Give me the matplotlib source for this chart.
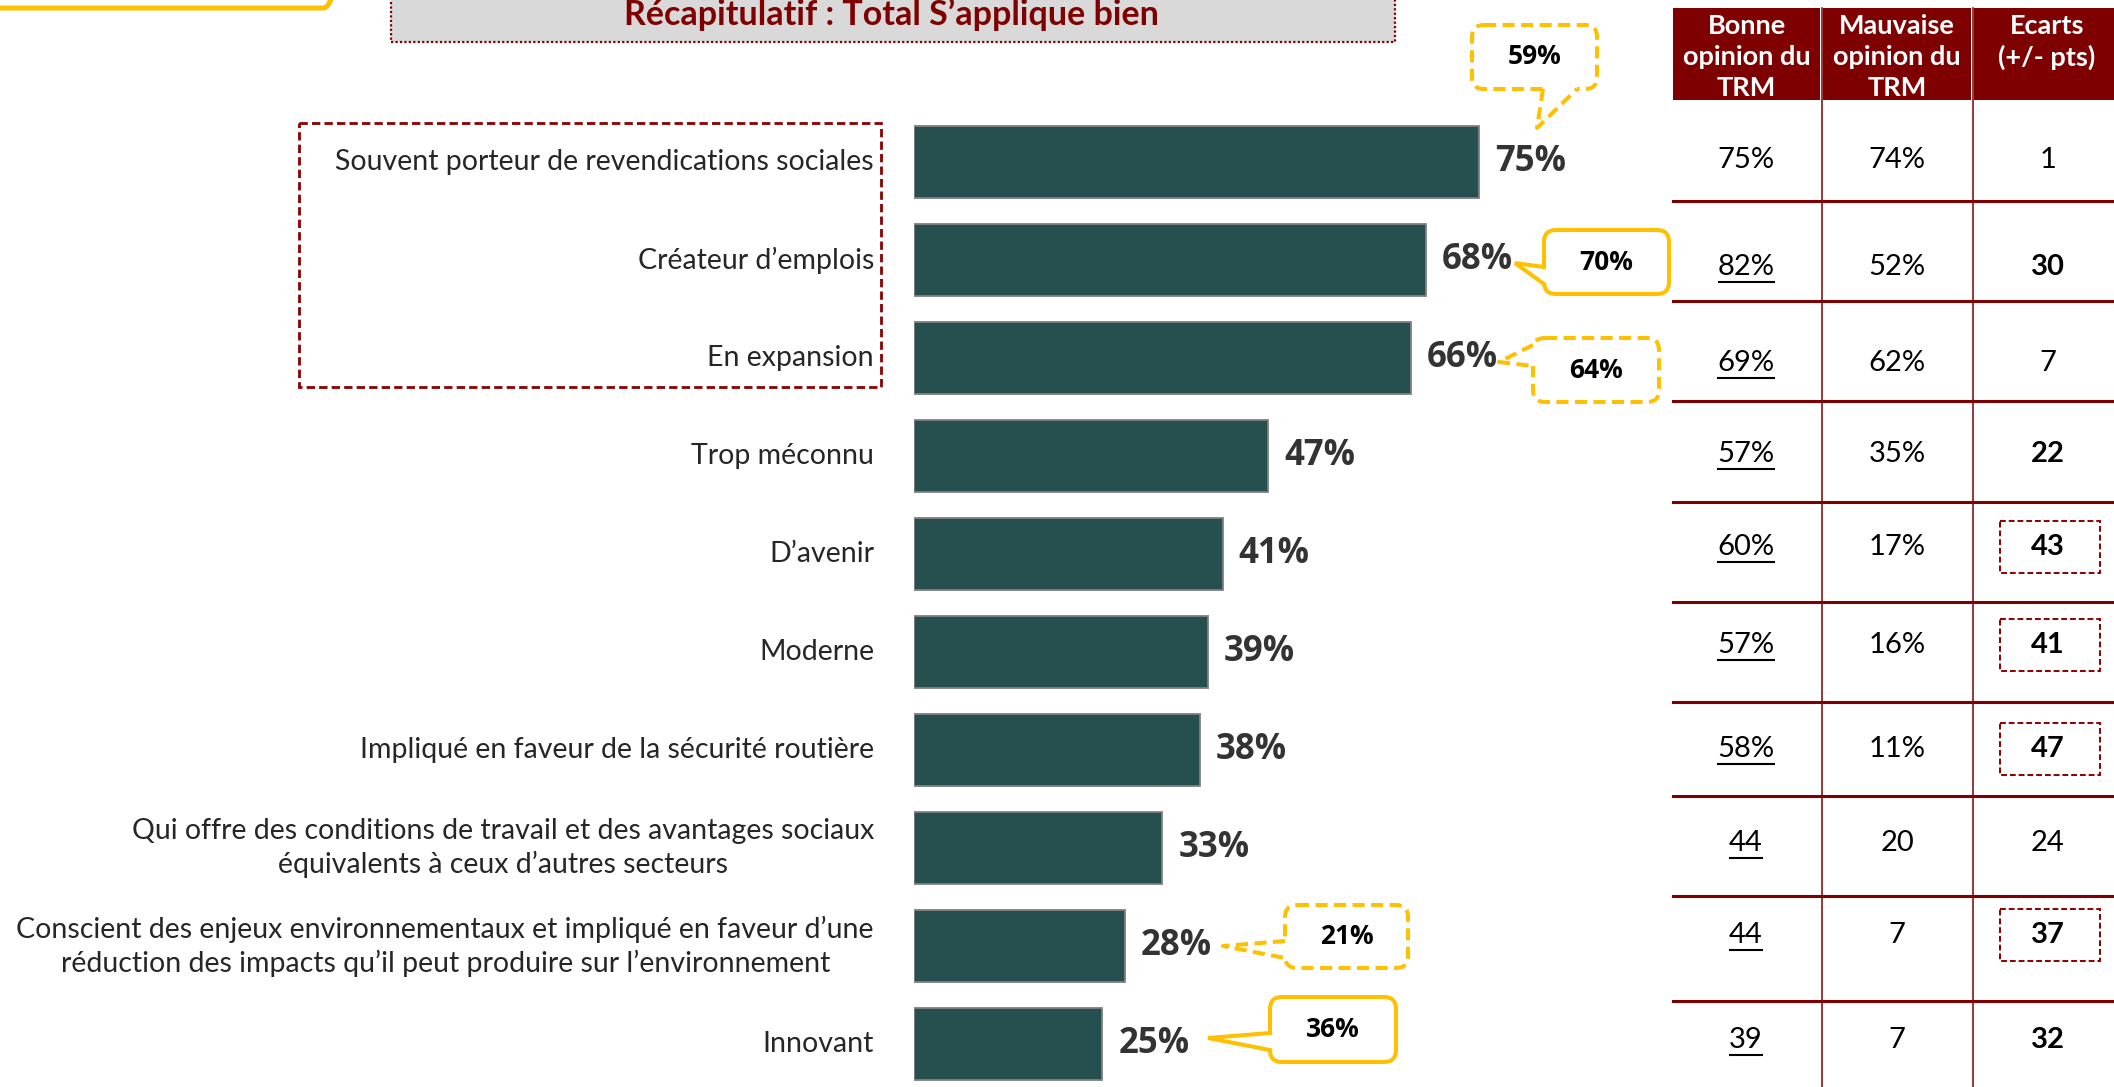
import matplotlib
matplotlib.use("Agg")
import matplotlib.pyplot as plt
from matplotlib.patches import FancyBboxPatch, Rectangle

W, H = 2114, 1087

categories = [
    "Souvent porteur de revendications sociales",
    "Créateur d’emplois",
    "En expansion",
    "Trop méconnu",
    "D’avenir",
    "Moderne",
    "Impliqué en faveur de la sécurité routière",
    "Qui offre des conditions de travail et des avantages sociaux\néquivalents à ceux d’autres secteurs",
    "Conscient des enjeux environnementaux et impliqué en faveur d’une\nréduction des impacts qu’il peut produire sur l’environnement",
    "Innovant",
]
scores = [75, 68, 66, 47, 41, 39, 38, 33, 28, 25]

headers = [["Bonne", "opinion du", "TRM"], ["Mauvaise", "opinion du", "TRM"], ["Ecarts", "(+/- pts)"]]
bonne = ["75%", "82%", "69%", "57%", "60%", "57%", "58%", "44", "44", "39"]
mauvaise = ["74%", "52%", "62%", "35%", "17%", "16%", "11%", "20", "7", "7"]
ecarts = ["1", "30", "7", "22", "43", "41", "47", "24", "37", "32"]
ecarts_bold = [False, True, False, True, True, True, True, False, True, True]
ecarts_boxed = [False, False, False, False, True, True, True, False, True, False]
bonne_underline = [False, True, True, True, True, True, True, True, True, True]

# previous wave values shown in yellow bubbles
prev_rows = [0, 1, 2, 8, 9]
prev_vals = ["59%", "70%", "64%", "21%", "36%"]
prev_dashed = [True, False, True, True, False]

# layout (pixels)
bubble_box = {0: (1472, 25, 1597, 89), 1: (1544, 230, 1669, 294), 2: (1533, 338, 1659, 402),
              8: (1285, 905, 1408, 968), 9: (1270, 997, 1396, 1062)}
bubble_tip = {0: (1537, 128), 1: (1515, 263), 2: (1499, 362), 8: (1223, 946), 9: (1208, 1038)}
bubble_base = {0: ((1543, 89), (1577, 89)), 1: ((1544, 267), (1544, 284)), 2: ((1533, 345), (1533, 366)),
               8: ((1285, 941), (1285, 958)), 9: ((1270, 1033), (1270, 1050))}
row_y = [160, 267, 363, 454, 547, 645, 749, 843, 935, 1040]
sep_y = [201, 301, 401, 502, 602, 702, 796, 896, 1001]
col_x = [1746, 1897, 2048]

BAR = "#25504F"
RED = "#7F0000"
YEL = "#FFC000"
TXT = "#333333"
FONT = "Lato"

fig = plt.figure(figsize=(W / 100, H / 100), dpi=100)

# bar chart: 0% at x=914px, 7.53 px per point, rows 98 px apart starting at 162px
px_per = 7.53
ax = fig.add_axes([914 / W, 0, 100 * px_per / W, (H - 113) / H])
ax.set_xlim(0, 100)
ax.set_ylim(-0.5 + (H - 113) / 98, -0.5)
ax.axis("off")
ax.barh(range(len(scores)), scores, height=72 / 98, color=BAR, edgecolor="#808080", linewidth=1.3)
for i, s in enumerate(scores):
    ax.text(s + 16 / px_per, i, f"{s}%", va="center", ha="left", fontsize=25,
            fontweight="bold", color=TXT, family="Open Sans")
    ax.text(-40 / px_per, i, categories[i], va="center", ha="right", multialignment="center",
            fontsize=20.5, color="#262626", family=FONT, linespacing=1.3, clip_on=False)

# overlay in pixel coordinates
ov = fig.add_axes([0, 0, 1, 1])
ov.set_xlim(0, W)
ov.set_ylim(H, 0)
ov.axis("off")
ov.patch.set_visible(False)

# top-left yellow frame fragment
ov.add_patch(FancyBboxPatch((-40, -80), 377, 88, boxstyle="round,pad=0,rounding_size=14",
                            fc="none", ec=YEL, lw=3.6))

# title box
ov.add_patch(Rectangle((391, -10), 1004, 52, fc="#D9D9D9", ec=RED, lw=1.6, ls=(0, (1, 1))))
ov.text(891, 15, "Récapitulatif : Total S’applique bien", ha="center", va="center",
        fontsize=24.5, fontweight="bold", color=RED, family=FONT)

# dashed frame around the first three items
ov.add_patch(Rectangle((299, 123), 582, 264, fc="none", ec="#8B0000", lw=2.0, ls=(0, (3, 1.5))))

# yellow bubbles with previous results
for r, val, dashed in zip(prev_rows, prev_vals, prev_dashed):
    x0, y0, x1, y1 = bubble_box[r]
    ls = (0, (3, 1.6)) if dashed else "-"
    ov.add_patch(FancyBboxPatch((x0, y0), x1 - x0, y1 - y0, boxstyle="round,pad=0,rounding_size=12",
                                fc="white", ec=YEL, lw=2.9, ls=ls, zorder=5))
    (bx0, by0), (bx1, by1) = bubble_base[r]
    ov.plot([bx0, bx1], [by0, by1], color="white", lw=4.5, zorder=6, solid_capstyle="butt")
    tx, ty = bubble_tip[r]
    ov.plot([bx0, tx, bx1], [by0, ty, by1], color=YEL, lw=2.9, ls=ls, zorder=7,
            solid_joinstyle="miter")
    ov.text((x0 + x1) / 2, (y0 + y1) / 2, val, ha="center", va="center", fontsize=19,
            fontweight="bold", color="black", family="Open Sans", zorder=8)

# table header
cells = [(1673, 1820), (1823, 1971), (1974, 2120)]
for (c0, c1), lines in zip(cells, headers):
    ov.add_patch(Rectangle((c0, 8), c1 - c0, 92, fc=RED, ec="none"))
    for k, ln in enumerate(lines):
        ov.text((c0 + c1) / 2, 26 + 31 * k, ln, ha="center", va="center", fontsize=19.5,
                fontweight="bold", color="white", family=FONT)

# table grid
for x in [1821.5, 1972.5]:
    ov.plot([x, x], [8, H], color=RED, lw=1.1)
for y in sep_y:
    ov.plot([1673, W], [y, y], color=RED, lw=2.2)

# table values
fig.canvas.draw()
renderer = fig.canvas.get_renderer()
for i in range(len(row_y)):
    y = row_y[i]
    t = ov.text(col_x[0], y, bonne[i], ha="center", va="center", fontsize=21, color="black", family=FONT)
    if bonne_underline[i]:
        bb = t.get_window_extent(renderer)
        ov.plot([bb.x0, bb.x1], [y + 15, y + 15], color="black", lw=1.5, solid_capstyle="butt")
    ov.text(col_x[1], y, mauvaise[i], ha="center", va="center", fontsize=21, color="black", family=FONT)
    ov.text(col_x[2], y, ecarts[i], ha="center", va="center", fontsize=21, color="black", family=FONT,
            fontweight="bold" if ecarts_bold[i] else "normal")
    if ecarts_boxed[i]:
        ov.add_patch(Rectangle((2000, y - 26), 100, 52, fc="none", ec="#8B0000", lw=1.4,
                               ls=(0, (3, 1.5))))

fig.savefig("out.png", dpi=100)
